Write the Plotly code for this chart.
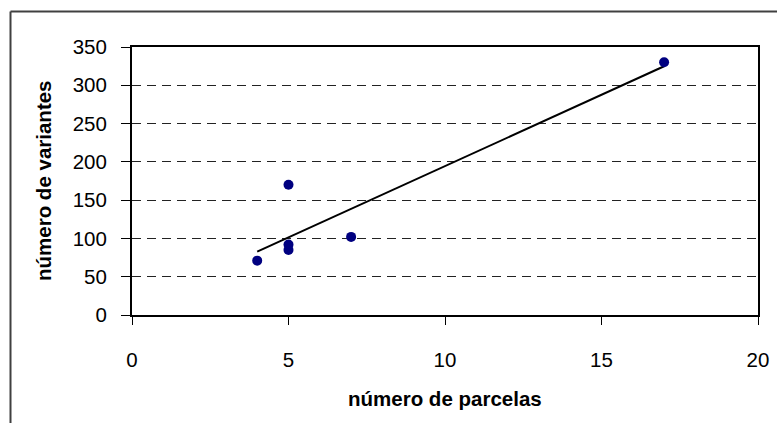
import numpy as np
import plotly.graph_objects as go

# Data: number of plots vs number of variants
parcelas = [4, 5, 5, 5, 7, 17]
variantes = [71, 170, 92, 85, 102, 330]

x_ticks = [0, 5, 10, 15, 20]
y_ticks = [0, 50, 100, 150, 200, 250, 300, 350]

x_title = "número de parcelas"
y_title = "número de variantes"

# Linear least-squares trendline over the data range
slope, intercept = np.polyfit(parcelas, variantes, 1)
trend_x = [min(parcelas), max(parcelas)]
trend_y = [slope * v + intercept for v in trend_x]

W, H = 777, 423
L, R, T, B = 132, 19, 47, 108
pw, ph = W - L - R, H - T - B

def px_x(p):
    return (p - L) / pw

def px_y(p):
    return (H - B - p) / ph

tick_font = dict(family="Liberation Sans, Arial", size=20.5, color="#000")
title_font = dict(family="Liberation Sans, Arial", size=20.5, color="#000", weight="bold")

fig = go.Figure()
fig.add_trace(go.Scatter(
    x=trend_x, y=trend_y, mode="lines",
    line=dict(color="#000", width=2), hoverinfo="skip", showlegend=False,
))
fig.add_trace(go.Scatter(
    x=parcelas, y=variantes, mode="markers",
    marker=dict(color="#000080", size=10, line=dict(width=0)),
    showlegend=False,
))

fig.update_xaxes(
    range=[0, 20], tickvals=x_ticks, ticks="outside", ticklen=8, tickwidth=1,
    tickcolor="#000", showline=True, linecolor="#000", linewidth=2, mirror=True,
    showgrid=False, zeroline=False, tickfont=tick_font, ticklabelstandoff=17,
    automargin=False,
)
fig.update_yaxes(
    range=[0, 350], tickvals=y_ticks, ticks="outside", ticklen=9, tickwidth=1,
    tickcolor="#000", showline=True, linecolor="#000", linewidth=2, mirror=True,
    showgrid=True, gridcolor="#222", gridwidth=1, griddash="9px,6px",
    zeroline=False, tickfont=tick_font, ticklabelstandoff=10,
    automargin=False,
)

fig.update_layout(
    width=W, height=H,
    margin=dict(l=L, r=R, t=T, b=B, pad=0, autoexpand=False),
    paper_bgcolor="#fff", plot_bgcolor="#fff",
    annotations=[
        dict(text=x_title, xref="paper", yref="paper", x=0.5, y=px_y(398),
             xanchor="center", yanchor="middle", showarrow=False, font=title_font),
        dict(text=y_title, xref="paper", yref="paper", x=px_x(43), y=0.5,
             xanchor="center", yanchor="middle", textangle=-90, showarrow=False,
             font=title_font),
    ],
    shapes=[
        # outer chart frame (left and top edges)
        dict(type="line", xref="paper", yref="paper",
             x0=px_x(10.5), y0=px_y(430), x1=px_x(10.5), y1=px_y(11.5),
             line=dict(color="#404040", width=2)),
        dict(type="line", xref="paper", yref="paper",
             x0=px_x(10.5), y0=px_y(11.5), x1=px_x(790), y1=px_y(11.5),
             line=dict(color="#404040", width=2)),
    ],
)

fig.write_html("out.html")
